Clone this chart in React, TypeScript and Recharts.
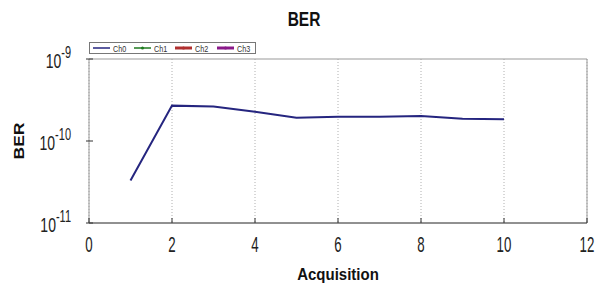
import React from 'react';
import { LineChart, Line, XAxis, YAxis, CartesianGrid, ReferenceLine, Label } from 'recharts';

const acquisition = [1, 2, 3, 4, 5, 6, 7, 8, 9, 10];
const ch0Ber = [3.3e-11, 2.7e-10, 2.63e-10, 2.28e-10, 1.92e-10, 1.98e-10, 1.98e-10, 2.02e-10, 1.87e-10, 1.84e-10];
const xTicks = [0, 2, 4, 6, 8, 10, 12];
const yTicks = [1e-11, 1e-10, 1e-9];
const channelNames = ['Ch0', 'Ch1', 'Ch2', 'Ch3'];
const channelColors = ['#25257f', '#1f7a1f', '#b03030', '#8a1a8a'];

const data = acquisition.map((x, i) => ({ x, ber: ch0Ber[i] }));

const FONT = "'Liberation Sans', Arial, sans-serif";

const XTick = (props: any) => {
  const { x, y, payload } = props;
  return (
    <g>
      <line x1={x} x2={x} y1={y} y2={y - 5} stroke="#333" strokeWidth={1} />
      <g transform={`translate(${x},${y + 29}) scale(0.95,1.6)`}>
        <text x={0} y={0} textAnchor="middle" fontSize={14} fontFamily={FONT} fill="#222">
          {payload.value}
        </text>
      </g>
    </g>
  );
};

const YTick = (props: any) => {
  const { x, y, payload } = props;
  const exp = Math.round(Math.log10(payload.value));
  return (
    <g>
      <line x1={x - 3} x2={x + 4} y1={y} y2={y} stroke="#333" strokeWidth={1} />
      <g transform={`translate(${x - 18},${y + 9}) scale(1,1.45)`}>
        <text x={0} y={0} textAnchor="end" fontFamily={FONT} fill="#222">
          <tspan fontSize={14}>10</tspan>
          <tspan fontSize={11} dy={-7}>{exp}</tspan>
        </text>
      </g>
    </g>
  );
};

const XLabel = (props: any) => {
  const vb = props.viewBox || { x: 0, y: 0, width: 0, height: 0 };
  const cx = vb.x + vb.width / 2;
  return (
    <g transform={`translate(${cx},${vb.y + 57}) scale(1,1.15)`}>
      <text x={0} y={0} textAnchor="middle" fontSize={15} fontWeight="bold" fontFamily={FONT} fill="#111">
        Acquisition
      </text>
    </g>
  );
};

const YLabel = (props: any) => {
  const vb = props.viewBox || { x: 0, y: 0, width: 0, height: 0 };
  const cy = vb.y + vb.height / 2;
  return (
    <g transform={`translate(23.5,${cy}) rotate(-90) scale(1,0.8)`}>
      <text x={0} y={0} textAnchor="middle" fontSize={17.5} fontWeight="bold" fontFamily={FONT} fill="#111">
        BER
      </text>
    </g>
  );
};

const LegendBox = () => {
  const starts = [93, 134, 175, 217];
  return (
    <svg width={598} height={284} style={{ position: 'absolute', left: 0, top: 0, pointerEvents: 'none' }}>
      <g transform="translate(304,26) scale(1,1.27)">
        <text x={0} y={0} textAnchor="middle" fontSize={15.5} fontWeight="bold" fontFamily={FONT} fill="#111">
          BER
        </text>
      </g>
      <rect x={89.5} y={42.5} width={166} height={11} fill="#fff" stroke="#777" strokeWidth={1} />
      {channelNames.map((name, i) => {
        const sx = starts[i];
        const thick = i >= 2 ? 3 : 1.5;
        return (
          <g key={name}>
            <line x1={sx} x2={sx + 17} y1={48} y2={48} stroke={channelColors[i]} strokeWidth={thick} />
            {i > 0 && <circle cx={sx + 8.5} cy={48} r={1.5} fill={channelColors[i]} />}
            <g transform={`translate(${sx + 20},51.5) scale(0.9,1.2)`}>
              <text x={0} y={0} fontSize={8} fontFamily={FONT} fill="#333">
                {name}
              </text>
            </g>
          </g>
        );
      })}
    </svg>
  );
};

export default function App() {
  return (
    <div style={{ position: 'absolute', left: 0, top: 0, width: 598, height: 284, background: '#fff' }}>
      <LineChart width={598} height={284} data={data} margin={{ top: 59, right: 11, left: 0, bottom: 0 }}>
        <CartesianGrid horizontal={false} strokeDasharray="1 2" stroke="#b0b0b0" />
        <XAxis
          dataKey="x"
          type="number"
          domain={[0, 12]}
          ticks={xTicks}
          interval={0}
          height={61}
          tickSize={0}
          tickMargin={0}
          tickLine={false}
          axisLine={{ stroke: '#222' }}
          tick={<XTick />}
        >
          <Label content={<XLabel />} />
        </XAxis>
        <YAxis
          type="number"
          scale="log"
          domain={[1e-11, 1e-9]}
          ticks={yTicks}
          interval={0}
          allowDataOverflow
          width={89}
          tickSize={0}
          tickMargin={0}
          tickLine={false}
          axisLine={{ stroke: '#999' }}
          tick={<YTick />}
        >
          <Label content={<YLabel />} />
        </YAxis>
        <ReferenceLine y={1e-9} stroke="#999" />
        <ReferenceLine x={12} stroke="#999" />
        <Line
          dataKey="ber"
          stroke={channelColors[0]}
          strokeWidth={2}
          dot={false}
          isAnimationActive={false}
        />
      </LineChart>
      <LegendBox />
    </div>
  );
}
